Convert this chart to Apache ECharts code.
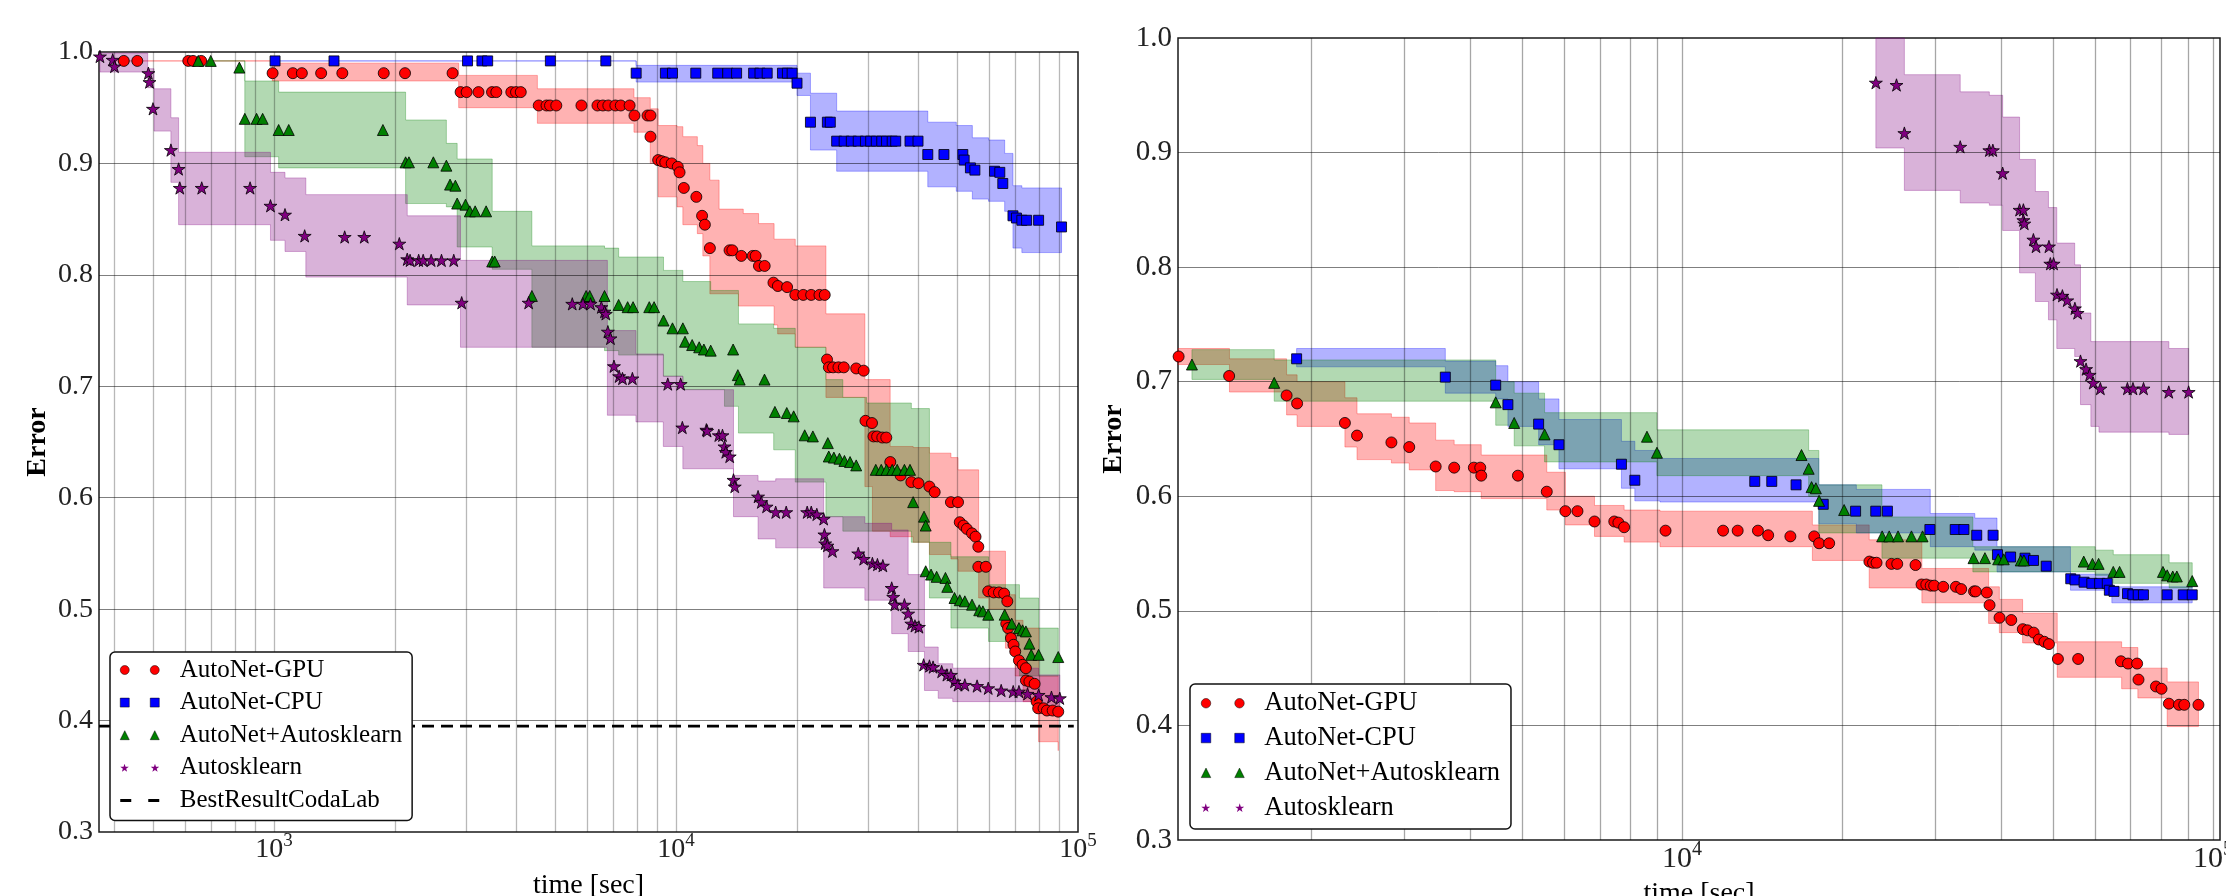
<!DOCTYPE html>
<html><head><meta charset="utf-8">
<script src="https://cdn.jsdelivr.net/npm/echarts@6/dist/echarts.min.js"></script>
<style>html,body{margin:0;padding:0;background:#fff}#c{width:2226px;height:896px}</style>
</head><body><div id="c"></div>
<script>
// ================= DATA (time [sec], error) =================
// ---- left panel ----
const L_GPU = [[423,0.992],[457,0.992],[612,0.992],[629,0.992],[659,0.992],[992,0.981],[1114,0.981],[1173,0.981],[1310,0.981],[1479,0.981],[1875,0.981],[2118,0.981],[2781,0.981],[2912,0.964],[3014,0.964],[3226,0.964],[3486,0.964],[3573,0.964],[3893,0.964],[4000,0.964],[4110,0.964],[4556,0.952],[4764,0.952],[4860,0.952],[5038,0.952],[5818,0.952],[6377,0.952],[6578,0.952],[6787,0.952],[7066,0.952],[7289,0.952],[7667,0.952],[7882,0.943],[8496,0.943],[8640,0.943],[8640,0.924],[9028,0.903],[9215,0.902],[9405,0.901],[9757,0.900],[10103,0.897],[10206,0.892],[10459,0.878],[11235,0.870],[11611,0.853],[11798,0.845],[12143,0.824],[13589,0.822],[13810,0.822],[14535,0.817],[15523,0.817],[15783,0.817],[16082,0.808],[16619,0.808],[17476,0.793],[17924,0.790],[18895,0.789],[19803,0.782],[20723,0.782],[21686,0.782],[22743,0.782],[23440,0.782],[23750,0.724],[24000,0.717],[24590,0.717],[25360,0.717],[26150,0.717],[28070,0.716],[29300,0.714],[29600,0.669],[30730,0.667],[30990,0.655],[31650,0.655],[32600,0.654],[33350,0.654],[34120,0.632],[36200,0.620],[38500,0.614],[40100,0.613],[42700,0.610],[44000,0.605],[48300,0.596],[50300,0.596],[50800,0.578],[51900,0.575],[52900,0.572],[54500,0.568],[55600,0.565],[56500,0.556],[56500,0.538],[59000,0.538],[59800,0.516],[61700,0.515],[63600,0.515],[65500,0.514],[66700,0.507],[66300,0.487],[67000,0.483],[68100,0.474],[69100,0.468],[69800,0.462],[71300,0.454],[72800,0.450],[74200,0.447],[74200,0.436],[75700,0.435],[78000,0.433],[78900,0.417],[79600,0.411],[82100,0.411],[83700,0.409],[86500,0.409],[89300,0.408]];
const L_CPU = [[1006,0.992],[1410,0.992],[3030,0.992],[3290,0.992],[3400,0.992],[4870,0.992],[6690,0.992],[7960,0.981],[9410,0.981],[9800,0.981],[11200,0.981],[12700,0.981],[13450,0.981],[14150,0.981],[15600,0.981],[16180,0.981],[16860,0.981],[18400,0.981],[18930,0.981],[19450,0.981],[20000,0.972],[21600,0.937],[23800,0.937],[24200,0.937],[25100,0.920],[26200,0.920],[27300,0.920],[28400,0.920],[29600,0.920],[30500,0.920],[31500,0.920],[32500,0.920],[33400,0.920],[34500,0.920],[35200,0.920],[38200,0.920],[40000,0.920],[42300,0.908],[46400,0.908],[51700,0.908],[52100,0.903],[54000,0.896],[55400,0.894],[62000,0.893],[63900,0.892],[65000,0.882],[68900,0.853],[70300,0.851],[72500,0.849],[74500,0.849],[79800,0.849],[91000,0.843]];
const L_ANA = [[648,0.992],[696,0.992],[820,0.986],[846,0.940],[905,0.940],[937,0.940],[1027,0.930],[1088,0.930],[1866,0.930],[2125,0.901],[2166,0.901],[2491,0.901],[2684,0.898],[2741,0.881],[2826,0.880],[2855,0.864],[2995,0.863],[3070,0.857],[3165,0.857],[3370,0.857],[3490,0.812],[3540,0.812],[4380,0.781],[5977,0.781],[6100,0.781],[6640,0.781],[7200,0.773],[7580,0.771],[7820,0.771],[8580,0.771],[8820,0.771],[9310,0.759],[9800,0.752],[10400,0.752],[10530,0.740],[10970,0.737],[11420,0.735],[11730,0.733],[12200,0.732],[13870,0.733],[14250,0.710],[14400,0.706],[16600,0.706],[17620,0.677],[18860,0.676],[19620,0.673],[20900,0.656],[21900,0.655],[23860,0.649],[23990,0.637],[24700,0.636],[25500,0.635],[26240,0.633],[27100,0.632],[28070,0.629],[31400,0.625],[32400,0.625],[33400,0.625],[34500,0.625],[35500,0.625],[37000,0.625],[38200,0.625],[38900,0.596],[41400,0.583],[41800,0.575],[41800,0.534],[43100,0.531],[44500,0.529],[46800,0.528],[47300,0.520],[49300,0.510],[50800,0.508],[52300,0.507],[54500,0.504],[56800,0.499],[58000,0.498],[59800,0.495],[65700,0.495],[68400,0.487],[71300,0.483],[72800,0.481],[74200,0.480],[75700,0.469],[76500,0.459],[79800,0.459],[89300,0.457]];
const L_ASK = [[369,0.996],[397,0.993],[401,0.987],[487,0.981],[490,0.973],[500,0.949],[554,0.912],[579,0.895],[583,0.878],[661,0.878],[872,0.878],[980,0.862],[1065,0.854],[1192,0.835],[1499,0.834],[1677,0.834],[2050,0.828],[2145,0.814],[2180,0.813],[2290,0.813],[2350,0.813],[2460,0.813],[2610,0.813],[2800,0.813],[2930,0.775],[4300,0.775],[5520,0.774],[5870,0.774],[6130,0.774],[6520,0.771],[6640,0.767],[6690,0.765],[6770,0.749],[6870,0.743],[7010,0.718],[7220,0.709],[7360,0.707],[7790,0.707],[9540,0.702],[10270,0.702],[10370,0.663],[11900,0.661],[11950,0.660],[12780,0.656],[13050,0.656],[13200,0.646],[13300,0.641],[13600,0.637],[13900,0.616],[14000,0.610],[16000,0.601],[16300,0.596],[16800,0.592],[17700,0.587],[18800,0.587],[21200,0.587],[21700,0.587],[22400,0.585],[23300,0.581],[23400,0.567],[23500,0.559],[23800,0.557],[24500,0.552],[28400,0.550],[29300,0.545],[30800,0.541],[31700,0.540],[32700,0.539],[34400,0.519],[34700,0.511],[35000,0.504],[37000,0.504],[37800,0.496],[38500,0.487],[39300,0.485],[40200,0.484],[41300,0.450],[42700,0.449],[43600,0.448],[45800,0.444],[47200,0.441],[48300,0.441],[49300,0.435],[50300,0.432],[52300,0.432],[56100,0.431],[59800,0.429],[64400,0.427],[69000,0.426],[71300,0.426],[74900,0.424],[79800,0.423],[85900,0.421],[90100,0.420]];
const L_BEST = [[367,0.395],[97600,0.395]];
// bands: [time, upper, lower]
const L_GPU_BAND = [[400,0.992,0.992],[990,0.990,0.974],[2880,0.979,0.950],[4520,0.967,0.936],[7860,0.959,0.928],[8630,0.949,0.900],[9030,0.934,0.870],[10060,0.933,0.861],[10400,0.924,0.845],[11300,0.916,0.837],[11660,0.900,0.817],[12140,0.885,0.783],[12800,0.859,0.783],[14300,0.859,0.772],[14700,0.855,0.772],[16050,0.846,0.772],[17540,0.832,0.755],[17900,0.832,0.747],[19800,0.826,0.735],[23600,0.765,0.690],[29500,0.706,0.610],[30800,0.706,0.570],[34100,0.646,0.565],[38900,0.645,0.560],[42700,0.640,0.549],[48300,0.636,0.545],[50300,0.625,0.534],[56600,0.552,0.510],[60000,0.552,0.500],[66000,0.513,0.465],[69800,0.490,0.440],[73000,0.483,0.417],[79800,0.440,0.381],[89300,0.440,0.373]];
const L_CPU_BAND = [[1006,0.992,0.992],[7960,0.988,0.973],[20000,0.981,0.961],[21600,0.963,0.912],[25100,0.947,0.893],[42300,0.937,0.879],[49800,0.934,0.875],[54600,0.923,0.868],[59900,0.921,0.866],[65700,0.909,0.857],[68900,0.880,0.824],[72500,0.878,0.820],[91000,0.878,0.820]];
const L_ANA_BAND = [[648,0.992,0.992],[846,0.974,0.906],[1027,0.964,0.896],[2125,0.939,0.864],[2684,0.918,0.861],[2855,0.904,0.825],[3490,0.857,0.805],[4380,0.826,0.735],[6640,0.824,0.732],[7200,0.816,0.728],[9310,0.804,0.709],[10400,0.794,0.697],[12200,0.786,0.697],[13200,0.786,0.682],[14300,0.756,0.658],[17500,0.752,0.643],[19800,0.735,0.614],[23600,0.706,0.583],[26000,0.690,0.570],[29800,0.685,0.570],[38500,0.680,0.560],[42700,0.560,0.510],[48300,0.547,0.483],[59900,0.522,0.471],[71500,0.510,0.440],[79800,0.483,0.440],[89300,0.483,0.440]];
const L_ASK_BAND = [[369,0.999,0.982],[485,0.985,0.968],[503,0.967,0.929],[554,0.941,0.883],[579,0.910,0.845],[980,0.892,0.831],[1065,0.887,0.821],[1200,0.872,0.798],[2145,0.853,0.773],[2910,0.813,0.735],[6750,0.750,0.674],[7950,0.729,0.668],[9300,0.709,0.646],[10400,0.697,0.626],[13900,0.620,0.583],[16000,0.615,0.563],[17700,0.617,0.555],[23300,0.583,0.519],[29500,0.577,0.508],[34400,0.571,0.478],[37800,0.531,0.462],[41500,0.466,0.427],[44900,0.451,0.420],[48800,0.447,0.417],[79800,0.441,0.409],[90100,0.441,0.409]];
// ---- right panel ----
const R_GPU = [[1127,0.722],[1403,0.705],[1800,0.688],[1884,0.681],[2318,0.664],[2443,0.653],[2836,0.647],[3064,0.643],[3436,0.626],[3723,0.625],[4055,0.625],[4169,0.625],[4187,0.618],[4909,0.618],[5563,0.604],[6030,0.587],[6355,0.587],[6842,0.578],[7455,0.578],[7590,0.577],[7780,0.573],[9310,0.570],[11950,0.570],[12730,0.570],[13900,0.570],[14530,0.566],[16000,0.565],[17740,0.565],[18120,0.559],[18930,0.559],[22540,0.543],[22900,0.542],[23250,0.542],[24800,0.541],[25430,0.541],[27530,0.540],[28260,0.523],[28850,0.523],[29400,0.522],[29850,0.522],[31050,0.521],[32800,0.521],[33560,0.519],[35480,0.517],[35740,0.517],[37500,0.516],[37950,0.505],[39630,0.494],[41700,0.492],[43840,0.484],[44740,0.483],[45960,0.481],[47000,0.475],[48140,0.473],[49100,0.471],[51050,0.458],[55730,0.458],[67100,0.456],[69200,0.454],[71970,0.454],[72400,0.440],[78100,0.434],[80000,0.432],[82600,0.419],[86300,0.418],[88300,0.418],[93900,0.418]];
const R_CPU = [[1880,0.720],[3583,0.704],[4458,0.697],[4700,0.680],[5370,0.663],[5864,0.645],[7690,0.628],[8150,0.614],[13710,0.613],[14760,0.613],[16400,0.610],[18450,0.593],[21230,0.587],[23170,0.587],[24370,0.587],[29300,0.571],[32700,0.571],[33960,0.571],[35900,0.566],[38540,0.566],[39280,0.549],[41580,0.547],[44260,0.546],[45920,0.544],[48530,0.539],[53970,0.528],[54980,0.527],[57180,0.525],[59140,0.524],[61180,0.524],[63240,0.524],[63810,0.518],[65110,0.517],[69040,0.515],[70660,0.514],[72320,0.514],[73970,0.514],[81990,0.514],[87900,0.514],[91400,0.514]];
const R_ANA = [[1194,0.715],[1706,0.699],[4458,0.682],[4830,0.664],[5510,0.654],[8590,0.652],[8970,0.638],[16790,0.636],[17320,0.624],[17540,0.608],[17870,0.607],[18120,0.596],[20200,0.588],[23820,0.565],[24560,0.565],[25520,0.565],[27050,0.565],[28380,0.565],[35400,0.546],[37200,0.546],[39400,0.545],[40360,0.545],[43450,0.544],[44050,0.544],[57100,0.543],[59300,0.541],[60900,0.541],[64900,0.534],[66700,0.534],[80500,0.534],[82000,0.531],[84000,0.530],[85500,0.530],[91400,0.526]];
const R_ASK = [[23180,0.961],[25350,0.959],[26230,0.917],[33420,0.905],[37920,0.902],[38500,0.902],[40170,0.882],[43230,0.850],[43950,0.850],[43950,0.841],[44120,0.838],[45900,0.824],[46430,0.818],[49100,0.818],[49400,0.803],[50100,0.803],[50850,0.776],[52050,0.775],[53150,0.771],[54950,0.764],[55600,0.760],[56300,0.718],[57680,0.711],[58570,0.706],[59500,0.699],[61370,0.694],[69000,0.694],[70690,0.694],[74000,0.694],[82560,0.691],[89990,0.691]];
const R_GPU_BAND = [[1124,0.729,0.715],[1405,0.720,0.691],[1800,0.706,0.671],[1884,0.700,0.661],[2318,0.686,0.643],[2443,0.672,0.632],[2836,0.669,0.629],[3064,0.664,0.623],[3436,0.649,0.605],[3723,0.645,0.604],[4187,0.636,0.598],[5563,0.621,0.588],[6030,0.600,0.575],[6842,0.592,0.565],[7780,0.588,0.560],[9090,0.587,0.556],[17600,0.575,0.544],[22520,0.562,0.520],[28300,0.537,0.507],[37800,0.521,0.489],[39600,0.510,0.481],[43800,0.498,0.472],[50900,0.473,0.442],[67300,0.468,0.432],[72200,0.450,0.424],[82000,0.438,0.399],[93900,0.438,0.399]];
const R_CPU_BAND = [[1880,0.729,0.713],[3583,0.718,0.690],[4458,0.714,0.685],[4700,0.700,0.661],[5370,0.685,0.645],[5864,0.667,0.624],[7690,0.648,0.607],[8150,0.640,0.596],[9090,0.633,0.595],[18100,0.610,0.576],[21300,0.606,0.568],[29350,0.585,0.556],[35600,0.581,0.553],[39200,0.556,0.534],[53900,0.532,0.518],[64500,0.521,0.507],[91400,0.521,0.507]];
const R_ANA_BAND = [[1194,0.728,0.702],[1706,0.719,0.683],[4458,0.700,0.662],[4830,0.690,0.644],[5510,0.673,0.630],[8970,0.658,0.618],[17320,0.640,0.600],[18100,0.610,0.568],[23800,0.582,0.546],[35300,0.556,0.534],[60000,0.553,0.531],[64900,0.549,0.524],[82700,0.542,0.520],[91400,0.542,0.520]];
const R_ASK_BAND = [[23180,1.05,0.904],[26230,0.968,0.867],[33420,0.953,0.856],[37920,0.950,0.854],[40170,0.931,0.832],[43230,0.894,0.795],[46300,0.866,0.770],[49000,0.852,0.754],[50800,0.821,0.729],[54900,0.802,0.722],[56300,0.760,0.680],[58890,0.735,0.661],[61000,0.735,0.656],[82600,0.729,0.654],[89990,0.729,0.654]];
// axis / grid ticks
const L_XGRID = [400,500,600,700,800,900,1000,2000,3000,4000,5000,6000,7000,8000,9000,10000,20000,30000,40000,50000,60000,70000,80000,90000];
const R_XGRID = [2000,3000,4000,5000,6000,7000,8000,9000,10000,20000,30000,40000,50000,60000,70000,80000,90000,100000];
const YGRID = [0.4,0.5,0.6,0.7,0.8,0.9];
const NAMES = ['AutoNet-GPU','AutoNet-CPU','AutoNet+Autosklearn','Autosklearn','BestResultCodaLab'];

// ================= STYLE =================
const F = 'Liberation Serif';
const COL = {gpu:'#ff0000', cpu:'#0000ff', ana:'#008000', ask:'#800080'};
const FILL = {gpu:'rgba(255,0,0,0.3)', cpu:'rgba(0,0,255,0.3)', ana:'rgba(0,128,0,0.3)', ask:'rgba(128,0,128,0.3)'};
const STAR = 'path://M0,-1L0.2245,-0.309L0.951,-0.309L0.363,0.118L0.588,0.809L0,0.382L-0.588,0.809L-0.363,0.118L-0.951,-0.309L-0.2245,-0.309Z';
function starPath(cx, cy, R){let s='';for(let k=0;k<10;k++){const r=k%2?R*0.382:R;const a=(-90+36*k)*Math.PI/180;s+=(k?'L':'M')+(cx+r*Math.cos(a)).toFixed(2)+','+(cy+r*Math.sin(a)).toFixed(2);}return s+'Z';}
function icons(w, d){
  const r=d/2, c2=w-r;
  return {
    circ:'path://M0,'+r+'a'+r+','+r+' 0 1,0 '+d+',0a'+r+','+r+' 0 1,0 -'+d+',0zM'+(w-d)+','+r+'a'+r+','+r+' 0 1,0 '+d+',0a'+r+','+r+' 0 1,0 -'+d+',0z',
    sq:'path://M0,0h'+d+'v'+d+'H0zM'+(w-d)+',0h'+d+'v'+d+'h-'+d+'z',
    tri:'path://M0,'+d+'L'+r+',0L'+d+','+d+'ZM'+(w-d)+','+d+'L'+c2+',0L'+w+','+d+'Z',
    star:'path://'+starPath(r*0.951,r,r)+starPath(w-r*0.951,r,r),
    dash:'path://M0,0h11v3H0zM'+(w-11)+',0h11v3h-11z'
  };
}

// band = step ("post") region between lower and upper, drawn as one polygon through the axes' scales
function bandSeries(band, gi, key){
  return {type:'custom', xAxisIndex:gi, yAxisIndex:gi, data:band, silent:true, z:1, animation:false,
    encode:{x:0, y:[1,2]},
    renderItem:(params, api)=>{
      if (params.dataIndex !== 0) return null;
      const cs = params.coordSys;
      const P = (t, v)=>{const p = api.coord([t, v]); return [p[0], Math.max(cs.y, Math.min(cs.y+cs.height, p[1]))];};
      const n = band.length, pts = [];
      for (let i=0;i<n;i++){ pts.push(P(band[i][0], band[i][1])); if (i<n-1) pts.push(P(band[i+1][0], band[i][1])); }
      for (let i=n-1;i>=0;i--){ if (i<n-1) pts.push(P(band[i+1][0], band[i][2])); pts.push(P(band[i][0], band[i][2])); }
      return {type:'polygon', shape:{points:pts}, style:{fill:FILL[key], stroke:FILL[key], lineWidth:1}};
    }};
}
function scatter(name, data, gi, key, sym, size){
  return {type:'scatter', name, data, xAxisIndex:gi, yAxisIndex:gi, symbol:sym, symbolSize:size, symbolKeepAspect:true,
    itemStyle:{color:COL[key], borderColor:'#000', borderWidth:0.8, opacity:1}, z:5, animation:false, emphasis:{disabled:true}};
}
function gridLines(gi, xs, vcol){
  return {type:'line', name:'grid'+gi, xAxisIndex:gi, yAxisIndex:gi, data:[], z:3, silent:true,
    markLine:{silent:true, symbol:['none','none'], label:{show:false}, animation:false, emphasis:{disabled:true},
      data: xs.map(v=>({xAxis:v, lineStyle:{color:vcol, width:1.3, type:'solid'}}))
        .concat(YGRID.map(v=>({yAxis:v, lineStyle:{color:'rgba(0,0,0,0.5)', width:1, type:'solid'}})))}};
}
function xAxis(gi, min, max, fs, ss, showMax){
  return {gridIndex:gi, type:'log', logBase:10, min, max,
    axisLine:{show:false}, axisTick:{show:false}, splitLine:{show:false},
    axisLabel:{showMinLabel:false, showMaxLabel:showMax, margin:0,
      formatter:v=>'{b|10}{s|'+Math.round(Math.log10(v))+'}',
      rich:{b:{fontFamily:F, fontSize:fs, color:'#222', padding:[4,0,0,0]}, s:{fontFamily:F, fontSize:ss, color:'#222', verticalAlign:'top', lineHeight:ss}}},
    name:'time [sec]', nameLocation:'middle', nameGap:40,
    nameTextStyle:{fontFamily:F, fontSize:28, color:'#000'}};
}
function yAxis(gi, fs, gap){
  return {gridIndex:gi, type:'value', min:0.3, max:1.0, interval:0.1,
    axisLine:{show:false}, axisTick:{show:false}, splitLine:{show:false},
    axisLabel:{formatter:v=>v.toFixed(1), fontFamily:F, fontSize:fs, color:'#222', margin:6},
    name:'Error', nameLocation:'middle', nameGap:gap, nameRotate:90,
    nameTextStyle:{fontFamily:F, fontSize:28, fontWeight:'bold', color:'#000'}};
}
const IL = icons(39, 9), IR = icons(43, 9.5);
function legend(left, top, I, fs, gap, pad, tpad, withBest){
  const d = [{name:NAMES[0], icon:I.circ, itemStyle:{borderWidth:0.5}},
             {name:NAMES[1], icon:I.sq, itemStyle:{borderWidth:0.5}},
             {name:NAMES[2], icon:I.tri, itemStyle:{borderWidth:0.5}},
             {name:NAMES[3], icon:I.star, itemStyle:{borderWidth:0}}];
  if (withBest) d.push({name:NAMES[4], icon:I.dash, itemStyle:{color:'#000', borderWidth:0}});
  return {left, top, orient:'vertical', data:d, selectedMode:false, symbolKeepAspect:true,
    itemWidth: withBest?39:43, itemHeight:9.5, itemGap:gap, padding:pad,
    backgroundColor:'#fff', borderColor:'#111', borderWidth:1.5, borderRadius:5, z:20,
    textStyle:{fontFamily:F, fontSize:fs, lineHeight:fs, color:'#000', padding:[0,0,0,tpad]}};
}

const series = [
  bandSeries(L_GPU_BAND,0,'gpu'), bandSeries(L_CPU_BAND,0,'cpu'),
  bandSeries(L_ANA_BAND,0,'ana'), bandSeries(L_ASK_BAND,0,'ask'),
  bandSeries(R_GPU_BAND,1,'gpu'), bandSeries(R_CPU_BAND,1,'cpu'),
  bandSeries(R_ANA_BAND,1,'ana'), bandSeries(R_ASK_BAND,1,'ask'),
  gridLines(0, L_XGRID, 'rgba(0,0,0,0.28)'), gridLines(1, R_XGRID, 'rgba(0,0,0,0.35)'),
  {type:'line', name:NAMES[4], data:L_BEST, xAxisIndex:0, yAxisIndex:0, symbol:'none', z:4, animation:false,
   lineStyle:{color:'#000', width:2.6, type:[12,7]}, emphasis:{disabled:true}},
  scatter(NAMES[0], L_GPU, 0, 'gpu', 'circle', 11), scatter(NAMES[1], L_CPU, 0, 'cpu', 'rect', 10),
  scatter(NAMES[2], L_ANA, 0, 'ana', 'triangle', 11), scatter(NAMES[3], L_ASK, 0, 'ask', STAR, 13),
  scatter(NAMES[0], R_GPU, 1, 'gpu', 'circle', 11), scatter(NAMES[1], R_CPU, 1, 'cpu', 'rect', 10),
  scatter(NAMES[2], R_ANA, 1, 'ana', 'triangle', 11), scatter(NAMES[3], R_ASK, 1, 'ask', STAR, 13)
];

const chart = echarts.init(document.getElementById('c'), null, {renderer:'canvas'});
chart.setOption({
  animation:false,
  backgroundColor:'#fff',
  grid:[{left:99, top:52, width:979, height:780, show:true, borderColor:'#1a1a1a', borderWidth:1.5, outerBoundsMode:'none'},
        {left:1178, top:38, width:1042, height:802, show:true, borderColor:'#1a1a1a', borderWidth:1.5, outerBoundsMode:'none'}],
  xAxis:[xAxis(0, 367, 100000, 28, 19, true), xAxis(1, 1124, 103100, 30, 20, false)],
  yAxis:[yAxis(0, 28, 47), yAxis(1, 29, 50)],
  legend:[legend(110, 652, IL, 25, 7.6, [5.5,10,7.5,10], 15.5, true),
          legend(1190, 684, IR, 26.5, 7.8, [5.75,11,7.75,11], 15, false)],
  series
});
</script></body></html>
